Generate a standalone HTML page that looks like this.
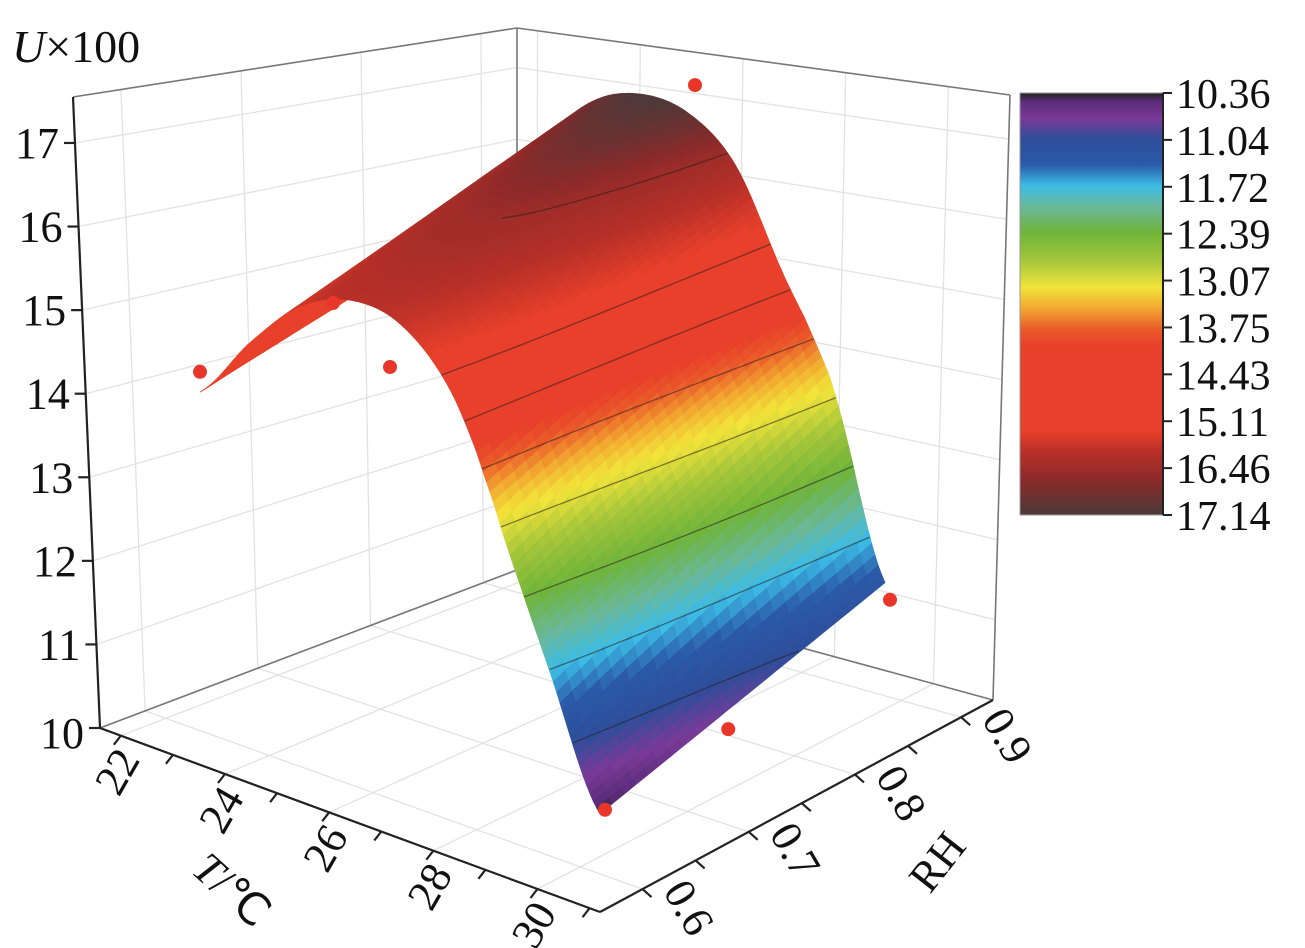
<!DOCTYPE html>
<html><head><meta charset="utf-8"><style>
html,body{margin:0;padding:0;background:#fff;width:1305px;height:948px;overflow:hidden}
svg{display:block}
text{font-family:"Liberation Serif",serif;fill:#111}
</style></head><body>
<svg id="chart" width="1305" height="948" viewBox="0 0 1305 948" xmlns="http://www.w3.org/2000/svg">
<defs><linearGradient id="cbgrad" x1="0" y1="0" x2="0" y2="1"></linearGradient></defs>
<g id="walls"></g>
<g id="surface"></g>
<g id="contours"></g>
<g id="dots"></g>
<g id="axes"></g>
<g id="colorbar"></g>
<text x="12" y="62" font-size="46"><tspan font-style="italic">U</tspan>×100</text>
</svg>
<script>
// ---- data ----
const tVals=[22,23,24,25,26,27,28,29,30];
const rhVals=[0.6,0.7,0.8,0.9];
const uRH06=[13.9,14.9,15.7,16.0,15.8,14.9,13.1,11.7,10.4];
const uRH07=[14.1,15.17,16.03,16.37,16.2,15.37,13.6,12.17,10.7];
const uRH08=[14.3,15.43,16.37,16.73,16.6,15.83,14.1,12.63,11.0];
const uRH09=[14.5,15.7,16.7,17.1,17.0,16.3,14.6,13.1,11.3];
const dotT=[22,22,25.8,26.2,30.1,30,30.1];
const dotRH=[0.6,0.74,0.6,0.9,0.9,0.735,0.6];
const dotU=[14.22,14.27,15.04,17.51,11.14,10.61,10.45];
const cbTicks=[10.36,11.04,11.72,12.39,13.07,13.75,14.43,15.11,16.46,17.14];
const zTicks=[10,11,12,13,14,15,16,17];
const tTicks=[22,24,26,28,30];
const rhTicks=[0.6,0.7,0.8,0.9];
const cStopPos=[0,0.02,0.06,0.11,0.17,0.22,0.27,0.33,0.40,0.46,0.51,0.56,0.60,0.80,0.85,0.92,1.0];
const cStopCol=["#222222","#5a2c7a","#7a3a98","#2e4e9a","#2a5aa8","#3cbce6","#6ab89a","#6fb43a","#a6c63a","#f2e43a","#f2a830","#ea5a2a","#e8402a","#e8402a","#b83028","#8a2a2a","#4a3a3a"];
const uRows=[uRH06,uRH07,uRH08,uRH09];
const NS="http://www.w3.org/2000/svg";
function mk(tag,attrs,parent){const e=document.createElementNS(NS,tag);for(const k in attrs)e.setAttribute(k,attrs[k]);parent.appendChild(e);return e;}

// ---- surface projection (nonlinear vertical scale for U) ----
const hKnotU=[9,10.4,11.5,12.5,13.3,14,15,16,17,18,19];
const hKnotPx=[-126,-20,90,190,265,315,375,435,495,550,600];
function hU(u){if(u<=hKnotU[0])return hKnotPx[0];for(let i=0;i<hKnotU.length-1;i++){if(u<=hKnotU[i+1]){const s=(u-hKnotU[i])/(hKnotU[i+1]-hKnotU[i]);return hKnotPx[i]+(hKnotPx[i+1]-hKnotPx[i])*s;}}return hKnotPx[hKnotPx.length-1];}
function SP(t,rh,u){return [200+50*(t-22)+950*(rh-0.6), 700+11.7*(t-22)-470*(rh-0.6)-hU(u)];}
function cr(p0,p1,p2,p3,s){return 0.5*((2*p1)+(-p0+p2)*s+(2*p0-5*p1+4*p2-p3)*s*s+(-p0+3*p1-3*p2+p3)*s*s*s);}
function rowU(row,t){let i=Math.floor(t-tVals[0]);if(i<0)i=0;if(i>tVals.length-2)i=tVals.length-2;const s=t-tVals[i];
 const g=k=>row[Math.max(0,Math.min(row.length-1,k))];return cr(g(i-1),g(i),g(i+1),g(i+2),s);}
function U(t,rh){let f=(rh-rhVals[0])/(rhVals[1]-rhVals[0]);let j=Math.floor(f);if(j<0)j=0;if(j>rhVals.length-2)j=rhVals.length-2;const s=f-j;
 return rowU(uRows[j],t)*(1-s)+rowU(uRows[j+1],t)*s;}
function hex(c){return [parseInt(c.slice(1,3),16),parseInt(c.slice(3,5),16),parseInt(c.slice(5,7),16)];}
function valPos(v){if(v<=cbTicks[0])return 0;for(let i=0;i<cbTicks.length-1;i++){if(v<=cbTicks[i+1])return (i+(v-cbTicks[i])/(cbTicks[i+1]-cbTicks[i]))/(cbTicks.length-1);}return 1;}
function posCol(p){for(let i=0;i<cStopPos.length-1;i++){if(p<=cStopPos[i+1]){const s=(p-cStopPos[i])/(cStopPos[i+1]-cStopPos[i]);const a=hex(cStopCol[i]),b=hex(cStopCol[i+1]);
 return "rgb("+a.map((x,k)=>Math.round(x+(b[k]-x)*s)).join(",")+")";}}return cStopCol[cStopCol.length-1];}

// ---- box (walls) ----
const walls=document.getElementById('walls');
const F0=[100,728],F1=[600,912],F2=[993,700],F3=[517,570],T0=[73,97],T3=[517,28],T2=[1010,95];
const L=(a,b,f)=>[a[0]+(b[0]-a[0])*f,a[1]+(b[1]-a[1])*f];
const tMin=21.6,tMax=31.2,rhMin=0.56,rhMax=0.93,zMin=10,zMax=17.55;
const grid={stroke:"#e2e2e2","stroke-width":1.3,fill:"none"};
function line(a,b,attrs,parent,name){const e=mk('line',Object.assign({x1:a[0],y1:a[1],x2:b[0],y2:b[1]},attrs),parent);return e;}
zTicks.forEach(z=>{const f=(z-zMin)/(zMax-zMin);line(L(F0,T0,f),L(F3,T3,f),grid,walls,'left-wall-gridline');line(L(F3,T3,f),L(F2,T2,f),grid,walls,'right-wall-gridline');});
rhTicks.forEach(r=>{const f=(r-rhMin)/(rhMax-rhMin);line(L(F0,F3,f),L(T0,T3,f),grid,walls,'left-wall-gridline');line(L(F0,F3,f),L(F1,F2,f),grid,walls,'floor-gridline');});
tTicks.forEach(t=>{const f=(t-tMin)/(tMax-tMin);line(L(F3,F2,f),L(T3,T2,f),grid,walls,'right-wall-gridline');line(L(F0,F1,f),L(F3,F2,f),grid,walls,'floor-gridline');});
const edge={stroke:"#777","stroke-width":1.6};
line(F0,F3,edge,walls,'floor-back-edge');line(F3,F2,edge,walls,'floor-back-edge');
line(T0,T3,edge,walls,'top-edge');line(T3,T2,edge,walls,'top-edge');line(F3,T3,edge,walls,'back-edge');line(F2,T2,edge,walls,'right-edge');

// ---- surface cells ----
const surf=document.getElementById('surface');
const nT=120,nR=24,t0=tVals[0],t1=tVals[tVals.length-1],r0=rhVals[0],r1=rhVals[rhVals.length-1];
for(let i=0;i<nT;i++){for(let j=nR-1;j>=0;j--){
 const ta=t0+(t1-t0)*i/nT,tb=t0+(t1-t0)*(i+1)/nT,ra=r0+(r1-r0)*j/nR,rb=r0+(r1-r0)*(j+1)/nR;
 const pts=[[ta,ra],[tb,ra],[tb,rb],[ta,rb]].map(p=>SP(p[0],p[1],U(p[0],p[1])));
 const c=posCol(valPos(U((ta+tb)/2,(ra+rb)/2)));
 const poly=mk('polygon',{points:pts.map(p=>p[0].toFixed(1)+","+p[1].toFixed(1)).join(" "),fill:c,stroke:c,"stroke-width":0.8},surf);
 
 
}}

// ---- contours (visible front slope) ----
const cg=document.getElementById('contours');
cbTicks.slice(1,-1).forEach(lv=>{let d="",pen=false;
 for(let k=0;k<=30;k++){const rh=r0+(r1-r0)*k/30;let found=null;
  for(let t=24.5;t<t1;t+=0.02){const a=U(t,rh),b=U(t+0.02,rh);if((a-lv)*(b-lv)<=0&&a>=lv){found=t+0.02*(a-lv)/(a-b);break;}}
  if(found!==null){const p=SP(found,rh,lv);d+=(pen?"L":"M")+p[0].toFixed(1)+","+p[1].toFixed(1);pen=true;}else pen=false;}
 if(d){const p=mk('path',{d:d,fill:"none",stroke:"rgba(40,30,30,0.55)","stroke-width":1.3},cg);
 
 }
});

// ---- dots ----
const dg=document.getElementById('dots');
for(let i=0;i<dotT.length;i++){const p=SP(dotT[i],dotRH[i],dotU[i]);
 const c=mk('circle',{cx:p[0],cy:p[1],r:7,fill:"#e8372a"},dg);
 
 }

// ---- axes ----
const ax=document.getElementById('axes');
const axl={stroke:"#222","stroke-width":2.2};
line(F0,T0,axl,ax,'z-axis-line');line(F0,F1,axl,ax,'t-axis-line');line(F1,F2,axl,ax,'rh-axis-line');
zTicks.forEach(z=>{const p=L(F0,T0,(z-zMin)/(zMax-zMin));line(p,[p[0]-11,p[1]],axl,ax,'z-tick');
 const t=mk('text',{x:p[0]-16,y:p[1]+(z===10?20:15),"font-size":44,"text-anchor":"end"},ax);t.textContent=z;
 });
for(let v=22;v<=31;v++){const p=L(F0,F1,(v-tMin)/(tMax-tMin));line(p,[p[0]-7,p[1]+9],axl,ax,'t-tick');}
tTicks.forEach(v=>{const p=L(F0,F1,(v-tMin)/(tMax-tMin));
 const t=mk('text',{x:0,y:0,"font-size":44,"text-anchor":"end",transform:`translate(${p[0]+20},${p[1]+24}) rotate(-60)`},ax);t.textContent=v;
 });
for(let v=0.6;v<=0.931;v+=0.05){const p=L(F1,F2,(v-rhMin)/(rhMax-rhMin));line(p,[p[0]+9,p[1]+8],axl,ax,'rh-tick');}
rhTicks.forEach(v=>{const p=L(F1,F2,(v-rhMin)/(rhMax-rhMin));
 const t=mk('text',{x:0,y:0,"font-size":44,"text-anchor":"start",transform:`translate(${p[0]+20},${p[1]+2}) rotate(60)`},ax);t.textContent=v.toFixed(1);
 });
const tt=mk('text',{x:0,y:0,"font-size":44,transform:"translate(190,872) rotate(42)"},ax);tt.innerHTML='<tspan font-style="italic">T</tspan>/℃';

const rt=mk('text',{x:0,y:0,"font-size":44,transform:"translate(930,895) rotate(-52)"},ax);rt.innerHTML='RH';


// ---- colorbar ----
const grad=document.getElementById('cbgrad');
cStopPos.forEach((p,i)=>mk('stop',{offset:p,"stop-color":cStopCol[i]},grad));
const cb=document.getElementById('colorbar');
const cbX=1020,cbY=93,cbW=143,cbH=422;
const r=mk('rect',{x:cbX,y:cbY,width:cbW,height:cbH,fill:"url(#cbgrad)",stroke:"#999","stroke-width":1},cb);

line([cbX+cbW,cbY],[cbX+cbW,cbY+cbH],{stroke:"#222","stroke-width":2},cb,'colorbar-axis');
cbTicks.forEach((v,i)=>{const y=cbY+cbH*i/(cbTicks.length-1);line([cbX+cbW,y],[cbX+cbW+9,y],{stroke:"#222","stroke-width":2},cb,'colorbar-tick');
 const t=mk('text',{x:cbX+cbW+13,y:y+15,"font-size":42},cb);t.textContent=v.toFixed(2);
 });
</script>
</body></html>
